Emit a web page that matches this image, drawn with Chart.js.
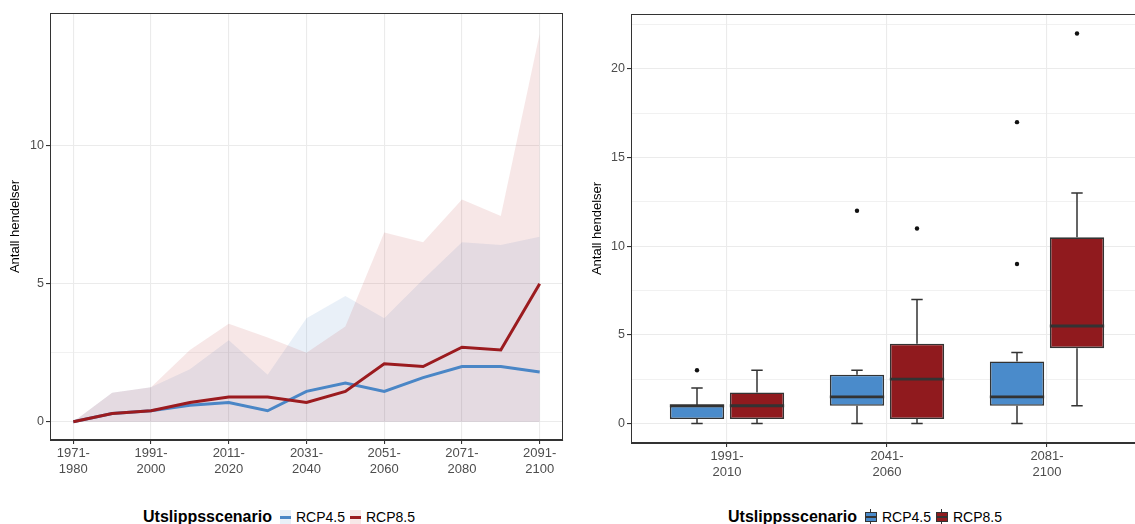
<!DOCTYPE html>
<html><head><meta charset="utf-8">
<script src="https://cdn.jsdelivr.net/npm/chart.js@4.4.1/dist/chart.umd.min.js"></script>
<style>
html,body{margin:0;padding:0;background:#fff;overflow:hidden;width:1135px;height:524px;font-family:"Liberation Sans",Arial,sans-serif;}
#c1{position:absolute;left:0;top:0;}
#c2{position:absolute;left:570px;top:0;}
.legend{position:absolute;top:507px;height:20px;display:flex;align-items:center;white-space:nowrap;}
.lt{font-weight:bold;font-size:16px;color:#000;margin-right:8px;}
.li{font-size:14px;color:#000;margin-right:5px;}
.lkey{display:inline-block;position:relative;width:11px;height:14px;margin-right:5px;}
.lkey i{position:absolute;left:0;right:0;top:6px;height:3px;}
.bkey{display:inline-block;position:relative;width:12px;height:16px;margin-right:5px;}
.bkey .w{position:absolute;left:5.5px;width:1px;top:0;bottom:0;background:#333;}
.bkey .b{position:absolute;left:0;right:0;top:3px;height:8px;border:1px solid #333;}
.bkey .m{position:absolute;left:0;right:0;top:7px;height:2px;background:#333;}
</style></head>
<body>
<canvas id="c1" width="570" height="490"></canvas>
<canvas id="c2" width="600" height="490"></canvas>

<div class="legend" style="left:143px;">
  <span class="lt">Utslippsscenario</span>
  <span class="lkey" style="background:rgba(74,134,200,0.12)"><i style="background:#4a86c6"></i></span>
  <span class="li">RCP4.5</span>
  <span class="lkey" style="background:rgba(178,34,34,0.10)"><i style="background:#9b1b1f"></i></span>
  <span class="li">RCP8.5</span>
</div>
<div class="legend" style="left:728px;">
  <span class="lt">Utslippsscenario</span>
  <span class="bkey"><span class="w"></span><span class="b" style="background:#4a8bcb"></span><span class="m"></span></span>
  <span class="li">RCP4.5</span>
  <span class="bkey"><span class="w"></span><span class="b" style="background:#901a1e"></span><span class="m"></span></span>
  <span class="li">RCP8.5</span>
</div>

<script>
// ---------- Left chart data ----------
const periods = ['1971-1980','1981-1990','1991-2000','2001-2010','2011-2020','2021-2030','2031-2040','2041-2050','2051-2060','2061-2070','2071-2080','2081-2090','2091-2100'];
const rcp45Mean  = [0, 0.3, 0.4, 0.6, 0.7, 0.4, 1.1, 1.4, 1.1, 1.6, 2.0, 2.0, 1.8];
const rcp85Mean  = [0, 0.3, 0.4, 0.7, 0.9, 0.9, 0.7, 1.1, 2.1, 2.0, 2.7, 2.6, 5.0];
const rcp45Upper = [0, 1.05, 1.25, 1.9, 2.95, 1.7, 3.75, 4.55, 3.75, 5.15, 6.5, 6.4, 6.7];
const rcp85Upper = [0, 1.05, 1.25, 2.6, 3.55, 3.05, 2.5, 3.45, 6.85, 6.5, 8.05, 7.45, 14.05];
const rcp45Lower = [0, 0, 0, 0, 0, 0, 0, 0, 0, 0, 0, 0, 0];
const rcp85Lower = [0, 0, 0, 0, 0, 0, 0, 0, 0, 0, 0, 0, 0];
const leftYMajor = [0, 5, 10];
const leftYMinor = [2.5];
const leftXLabelEvery = 2;

// ---------- Right chart data ----------
const periods2 = ['1991-2010','2041-2060','2081-2100'];
const rcp45Low    = [0, 0, 0];
const rcp45Q1     = [0.25, 1, 1];
const rcp45Median = [1, 1.5, 1.5];
const rcp45Q3     = [1, 2.75, 3.5];
const rcp45High   = [2, 3, 4];
const rcp45Out    = [[3], [12], [9, 17]];
const rcp85Low    = [0, 0, 1];
const rcp85Q1     = [0.25, 0.25, 4.25];
const rcp85Median = [1, 2.5, 5.5];
const rcp85Q3     = [1.75, 4.5, 10.5];
const rcp85High   = [3, 7, 13];
const rcp85Out    = [[], [11], [22]];
const rightYMajor = [0, 5, 10, 15, 20];
const rightYMinor = [2.5, 7.5, 12.5, 17.5, 22.5];

Chart.defaults.font.family = '"Liberation Sans", Arial, sans-serif';
Chart.defaults.animation = false;

const GRID = '#ebebeb';
const TICKC = '#4d4d4d';
const AXIS = '#333333';

const frame = {
  id: 'frame',
  afterDatasetsDraw(chart) {
    const a = chart.chartArea, c = chart.ctx;
    c.save();
    c.strokeStyle = AXIS; c.lineWidth = 1;
    c.strokeRect(Math.round(a.left) + 0.5, Math.round(a.top) + 0.5, Math.round(a.right - a.left) - 1, Math.round(a.bottom - a.top) - 1);
    c.restore();
  }
};

const splitLabel = s => { const p = s.split('-'); return [p[0] + '-', p[1]]; };
const pts = arr => arr.map((v, i) => ({x: i, y: v}));

new Chart(document.getElementById('c1'), {
  type: 'line',
  data: {
    datasets: [
      {label: 'RCP8.5', data: pts(rcp85Mean), borderColor: '#9b1b1f', borderWidth: 3, pointRadius: 0, fill: false, tension: 0},
      {label: 'RCP4.5', data: pts(rcp45Mean), borderColor: '#4a86c6', borderWidth: 3, pointRadius: 0, fill: false, tension: 0},
      {label: 'RCP8.5 upper', data: pts(rcp85Upper), borderWidth: 0, borderColor: 'rgba(0,0,0,0)', pointRadius: 0, backgroundColor: 'rgba(178,34,34,0.11)', fill: 3, tension: 0},
      {label: 'RCP8.5 lower', data: pts(rcp85Lower), borderWidth: 0, borderColor: 'rgba(0,0,0,0)', pointRadius: 0, fill: false, tension: 0},
      {label: 'RCP4.5 upper', data: pts(rcp45Upper), borderWidth: 0, borderColor: 'rgba(0,0,0,0)', pointRadius: 0, backgroundColor: 'rgba(70,130,200,0.12)', fill: 5, tension: 0},
      {label: 'RCP4.5 lower', data: pts(rcp45Lower), borderWidth: 0, borderColor: 'rgba(0,0,0,0)', pointRadius: 0, fill: false, tension: 0}
    ]
  },
  options: {
    responsive: false,
    devicePixelRatio: 1,
    layout: {padding: {top: 13, right: 7, left: 0, bottom: 0}},
    plugins: {legend: {display: false}, tooltip: {enabled: false}},
    scales: {
      x: {
        type: 'linear', min: -0.6, max: 12.6,
        afterBuildTicks: s => { s.ticks = periods.map((p, i) => ({value: i})).filter((t, i) => i % leftXLabelEvery === 0); },
        afterFit: s => { s.height = 50; },
        ticks: {callback: v => splitLabel(periods[v]), color: TICKC, font: {size: 13}, maxRotation: 0, autoSkip: false, padding: 2},
        grid: {color: GRID, lineWidth: 1.1, tickColor: AXIS, tickLength: 4},
        border: {color: AXIS, width: 1}
      },
      y: {
        type: 'linear', min: -0.66, max: 14.8,
        afterBuildTicks: s => { s.ticks = leftYMajor.concat(leftYMinor).sort((a, b) => a - b).map(v => ({value: v})); },
        afterFit: s => { s.width = 50; },
        ticks: {callback: v => leftYMajor.includes(v) ? String(v) : '', color: TICKC, font: {size: 12.5}, padding: 2},
        grid: {
          color: GRID,
          lineWidth: ctx => leftYMajor.includes(ctx.tick.value) ? 1.1 : 0.7,
          tickColor: ctx => leftYMajor.includes(ctx.tick.value) ? AXIS : 'rgba(0,0,0,0)',
          tickLength: 4
        },
        border: {color: AXIS, width: 1},
        title: {display: true, text: 'Antall hendelser', color: '#000', font: {size: 13}, padding: {top: 8, bottom: 0}}
      }
    }
  },
  plugins: [frame]
});

// ---------- Right chart ----------
const boxDecor = {
  id: 'boxDecor',
  afterDatasetsDraw(chart) {
    const c = chart.ctx, ys = chart.scales.y;
    c.save();
    chart.data.datasets.forEach((ds, di) => {
      const meta = chart.getDatasetMeta(di);
      const st = ds.stats;
      meta.data.forEach((el, i) => {
        const x = el.x, w = el.width, cap = w * 0.21;
        c.strokeStyle = AXIS; c.lineWidth = 1.5; c.lineCap = 'butt';
        const yq3 = ys.getPixelForValue(st.q3[i]), yhi = ys.getPixelForValue(st.high[i]);
        const yq1 = ys.getPixelForValue(st.q1[i]), ylo = ys.getPixelForValue(st.low[i]);
        c.beginPath();
        c.moveTo(x, yq3); c.lineTo(x, yhi);
        c.moveTo(x - cap / 2, yhi); c.lineTo(x + cap / 2, yhi);
        c.moveTo(x, yq1); c.lineTo(x, ylo);
        c.moveTo(x - cap / 2, ylo); c.lineTo(x + cap / 2, ylo);
        c.stroke();
        const ym = ys.getPixelForValue(st.median[i]);
        c.lineWidth = 2.8;
        c.beginPath(); c.moveTo(x - w / 2, ym); c.lineTo(x + w / 2, ym); c.stroke();
        c.fillStyle = '#111';
        st.out[i].forEach(o => {
          c.beginPath(); c.arc(x, ys.getPixelForValue(o), 2.2, 0, Math.PI * 2); c.fill();
        });
      });
    });
    c.restore();
  }
};

const boxData = (q1, q3) => periods2.map((p, i) => ({x: i + 1, y: [q1[i], q3[i]]}));

new Chart(document.getElementById('c2'), {
  type: 'bar',
  data: {
    datasets: [
      {label: 'RCP4.5', data: boxData(rcp45Q1, rcp45Q3), backgroundColor: '#4a8bcb', borderColor: AXIS, borderWidth: 1.6, borderSkipped: false,
       categoryPercentage: 0.75, barPercentage: 0.905,
       stats: {low: rcp45Low, q1: rcp45Q1, median: rcp45Median, q3: rcp45Q3, high: rcp45High, out: rcp45Out}},
      {label: 'RCP8.5', data: boxData(rcp85Q1, rcp85Q3), backgroundColor: '#901a1e', borderColor: AXIS, borderWidth: 1.6, borderSkipped: false,
       categoryPercentage: 0.75, barPercentage: 0.905,
       stats: {low: rcp85Low, q1: rcp85Q1, median: rcp85Median, q3: rcp85Q3, high: rcp85High, out: rcp85Out}}
    ]
  },
  options: {
    responsive: false,
    devicePixelRatio: 1,
    layout: {padding: {top: 14, right: 27, left: 0, bottom: 0}},
    plugins: {legend: {display: false}, tooltip: {enabled: false}},
    scales: {
      x: {
        type: 'linear', min: 0.4, max: 3.6, offset: false,
        afterBuildTicks: s => { s.ticks = periods2.map((p, i) => ({value: i + 1})); },
        afterFit: s => { s.height = 47; },
        ticks: {callback: v => splitLabel(periods2[v - 1]), color: TICKC, font: {size: 13}, maxRotation: 0, autoSkip: false, padding: 2},
        grid: {color: GRID, lineWidth: 1.1, tickColor: AXIS, tickLength: 4, offset: false},
        border: {color: AXIS, width: 1}
      },
      y: {
        type: 'linear', min: -1.1, max: 23.1,
        afterBuildTicks: s => { s.ticks = rightYMajor.concat(rightYMinor).sort((a, b) => a - b).map(v => ({value: v})); },
        afterFit: s => { s.width = 61; },
        ticks: {callback: v => rightYMajor.includes(v) ? String(v) : '', color: TICKC, font: {size: 12.5}, padding: 2},
        grid: {
          color: GRID,
          lineWidth: ctx => rightYMajor.includes(ctx.tick.value) ? 1.1 : 0.7,
          tickColor: ctx => rightYMajor.includes(ctx.tick.value) ? AXIS : 'rgba(0,0,0,0)',
          tickLength: 4
        },
        border: {color: AXIS, width: 1},
        title: {display: true, text: 'Antall hendelser', color: '#000', font: {size: 13}, padding: {top: 20, bottom: 0}}
      }
    }
  },
  plugins: [boxDecor, frame]
});
</script>
</body></html>
